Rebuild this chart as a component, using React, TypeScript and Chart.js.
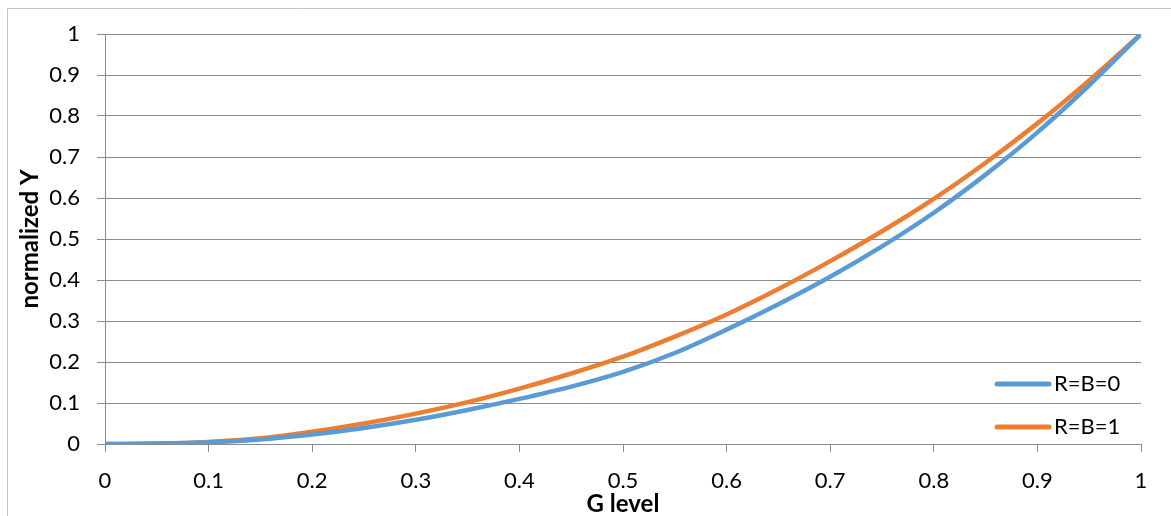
import React, { useEffect, useRef } from 'react';
import { Chart, registerables } from 'chart.js';

Chart.register(...registerables);

// ---- data ----
const gLevels = [0, 0.05, 0.1, 0.15, 0.2, 0.25, 0.3, 0.35, 0.4, 0.45, 0.5, 0.55, 0.6, 0.65, 0.7, 0.75, 0.8, 0.85, 0.9, 0.95, 1];
const seriesRB0 = [0, 0.001, 0.004, 0.011, 0.023, 0.039, 0.059, 0.083, 0.110, 0.140, 0.176, 0.222, 0.279, 0.341, 0.408, 0.482, 0.564, 0.657, 0.760, 0.875, 1];
const seriesRB1 = [0, 0.001, 0.005, 0.014, 0.030, 0.050, 0.074, 0.102, 0.135, 0.172, 0.213, 0.262, 0.316, 0.378, 0.446, 0.519, 0.598, 0.686, 0.782, 0.887, 1];
const seriesNames = ['R=B=0', 'R=B=1'];
const xTickLabels = ['0', '0.1', '0.2', '0.3', '0.4', '0.5', '0.6', '0.7', '0.8', '0.9', '1'];
const yTickLabels = ['0', '0.1', '0.2', '0.3', '0.4', '0.5', '0.6', '0.7', '0.8', '0.9', '1'];
const xTitle = 'G level';
const yTitle = 'normalized Y';

const COLORS = ['#5B9BD5', '#ED7D31'];
const GRID = '#8c8c8c';
const FONT = 'Lato';

export default function App() {
  const ref = useRef<HTMLCanvasElement | null>(null);

  useEffect(() => {
    if (!ref.current) return;
    const framePlugin = {
      id: 'frame',
      beforeDraw(chart: any) {
        const ctx = chart.ctx;
        ctx.save();
        ctx.fillStyle = '#ffffff';
        ctx.fillRect(0, 0, chart.width, chart.height);
        ctx.strokeStyle = '#c6c6c6';
        ctx.lineWidth = 1;
        ctx.beginPath();
        ctx.moveTo(7.5, chart.height);
        ctx.lineTo(7.5, 8.5);
        ctx.lineTo(chart.width, 8.5);
        ctx.stroke();
        ctx.restore();
      },
    };
    const legendPlugin = {
      id: 'innerLegend',
      afterDraw(chart: any) {
        const ctx = chart.ctx;
        const rows = [384, 427];
        ctx.save();
        chart.data.datasets.forEach((ds: any, i: number) => {
          const y = rows[i];
          ctx.strokeStyle = ds.borderColor;
          ctx.lineWidth = 5;
          ctx.lineCap = 'round';
          ctx.beginPath();
          ctx.moveTo(997, y);
          ctx.lineTo(1049, y);
          ctx.stroke();
          ctx.fillStyle = '#000000';
          ctx.font = `22px ${FONT}`;
          ctx.textBaseline = 'middle';
          ctx.textAlign = 'left';
          ctx.fillText(ds.label, 1054, y);
        });
        ctx.restore();
      },
    };

    const chart = new Chart(ref.current, {
      type: 'line',
      data: {
        datasets: [
          {
            label: seriesNames[0],
            data: gLevels.map((g, i) => ({ x: g, y: seriesRB0[i] })),
            borderColor: COLORS[0],
            backgroundColor: COLORS[0],
            borderWidth: 4.5,
            pointRadius: 0,
            cubicInterpolationMode: 'monotone',
            fill: false,
          },
          {
            label: seriesNames[1],
            data: gLevels.map((g, i) => ({ x: g, y: seriesRB1[i] })),
            borderColor: COLORS[1],
            backgroundColor: COLORS[1],
            borderWidth: 4.5,
            pointRadius: 0,
            cubicInterpolationMode: 'monotone',
            fill: false,
          },
        ],
      },
      options: {
        animation: false,
        responsive: false,
        maintainAspectRatio: false,
        layout: { padding: { top: 34, right: 30, left: 0, bottom: 0 } },
        plugins: { legend: { display: false }, tooltip: { enabled: false } },
        scales: {
          x: {
            type: 'linear',
            min: 0,
            max: 1,
            afterFit: (s: any) => {
              s.height = 72;
            },
            ticks: {
              stepSize: 0.1,
              autoSkip: false,
              maxRotation: 0,
              color: '#000000',
              padding: 16,
              font: { family: FONT, size: 22 },
              callback: (_v: any, i: number) => xTickLabels[i],
            },
            grid: { drawOnChartArea: false, drawTicks: true, tickLength: 8, color: GRID },
            border: { display: true, color: GRID },
            title: {
              display: true,
              text: xTitle,
              color: '#000000',
              font: { family: FONT, size: 24, weight: 'bold', lineHeight: 1 },
              padding: { top: 0, bottom: 0 },
            },
          },
          y: {
            type: 'linear',
            min: 0,
            max: 1,
            afterFit: (s: any) => {
              s.width = 105;
            },
            ticks: {
              stepSize: 0.1,
              autoSkip: false,
              color: '#000000',
              padding: 17,
              font: { family: FONT, size: 22 },
              callback: (_v: any, i: number) => yTickLabels[i],
            },
            grid: { drawOnChartArea: true, drawTicks: true, tickLength: 8, color: GRID },
            border: { display: true, color: GRID },
            title: {
              display: true,
              text: yTitle,
              color: '#000000',
              font: { family: FONT, size: 24, weight: 'bold', lineHeight: 1 },
              padding: { top: 18, bottom: 0 },
            },
          },
        },
      },
      plugins: [framePlugin, legendPlugin],
    } as any);

    return () => chart.destroy();
  }, []);

  return (
    <div style={{ position: 'absolute', left: 0, top: 0, width: 1171, height: 516 }}>
      <canvas ref={ref} width={1171} height={516} style={{ width: 1171, height: 516, display: 'block' }} />
    </div>
  );
}
